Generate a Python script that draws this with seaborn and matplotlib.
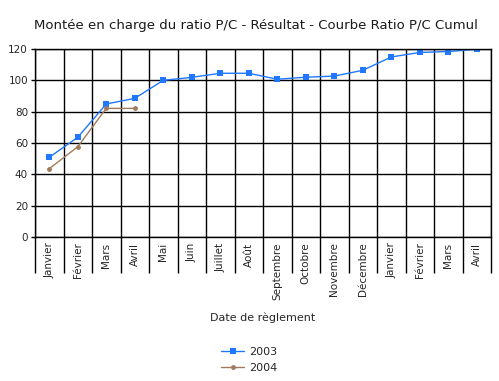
import matplotlib
matplotlib.use("Agg")
import matplotlib.pyplot as plt
import seaborn as sns
import pandas as pd
import numpy as np
from matplotlib.ticker import FixedLocator

months = ["Janvier", "Février", "Mars", "Avril", "Mai", "Juin", "Juillet", "Août",
          "Septembre", "Octobre", "Novembre", "Décembre", "Janvier", "Février", "Mars", "Avril"]
s2003 = [50.9, 63.6, 84.9, 88.5, 100.0, 101.9, 104.5, 104.5,
         100.7, 102.0, 102.7, 106.4, 114.9, 117.8, 118.4, 119.8]
s2004 = [43.6, 57.6, 82.1, 82.1]
yticks = [0, 20, 40, 60, 80, 100, 120]

sns.set_style("white")
plt.rcParams['font.family'] = ['Verdana', 'DejaVu Sans']

df = pd.concat([
    pd.DataFrame({"pos": np.arange(len(s2003)), "val": s2003, "serie": "2003"}),
    pd.DataFrame({"pos": np.arange(len(s2004)), "val": s2004, "serie": "2004"}),
])

fig = plt.figure(figsize=(4.99, 3.81), dpi=100)
ax = fig.add_axes([35/499, 1-237/381, (491-35)/499, (237-49)/381])

palette = {"2003": "#1f78ff", "2004": "#a07c5c"}
sns.lineplot(data=df, x="pos", y="val", hue="serie", style="serie",
             markers={"2003": "s", "2004": "o"}, dashes=False,
             palette=palette, linewidth=1.0, ax=ax, legend=False,
             markeredgewidth=0)
for line, ms in zip(ax.lines, [5, 3.5]):
    line.set_markersize(ms)

ax.set_xlim(-0.5, len(months) - 0.5)
ax.set_ylim(0, 120)
ax.set_yticks(yticks)
ax.set_yticklabels([str(v) for v in yticks], fontsize=7.5)
ax.set_xticks(np.arange(len(months)))
ax.set_xticklabels(months, rotation=90, fontsize=7.5)
ax.xaxis.set_minor_locator(FixedLocator(np.arange(-0.5, len(months), 1.0)))
ax.tick_params(axis='x', which='major', length=0, pad=4, bottom=True)
ax.tick_params(axis='x', which='minor', length=26, width=1.0, color='black',
               direction='out', bottom=True)
ax.tick_params(axis='y', which='major', length=3, width=1.0, color='black', left=True, pad=2)

ax.grid(True, axis='y', color='black', linewidth=1.0)
ax.grid(True, axis='x', which='minor', color='black', linewidth=1.0)
ax.grid(False, axis='x', which='major')
ax.set_axisbelow(True)
for sp in ax.spines.values():
    sp.set_visible(True)
    sp.set_color('black')
    sp.set_linewidth(1.0)

ax.set_xlabel("Date de règlement", fontsize=8)
ax.xaxis.set_label_coords(0.5, (237 - 318) / 188, transform=ax.transAxes)
ax.xaxis.label.set_va('center')
ax.set_ylabel("")
fig.text(256/499, 1 - 25/381, "Montée en charge du ratio P/C - Résultat - Courbe Ratio P/C Cumul",
         ha='center', va='center', fontsize=9.5, color='#1a1a1a')

from matplotlib.lines import Line2D
handles = [Line2D([], [], color=palette["2003"], marker='s', markersize=5, lw=1, markeredgewidth=0),
           Line2D([], [], color=palette["2004"], marker='o', markersize=3.5, lw=1, markeredgewidth=0)]
fig.legend(handles, ["2003", "2004"], loc='center', bbox_to_anchor=(0.5, 1 - 360/381),
           frameon=False, fontsize=8, handlelength=2.0, labelspacing=0.5, handletextpad=0.5)

fig.savefig("out.png", dpi=100)
